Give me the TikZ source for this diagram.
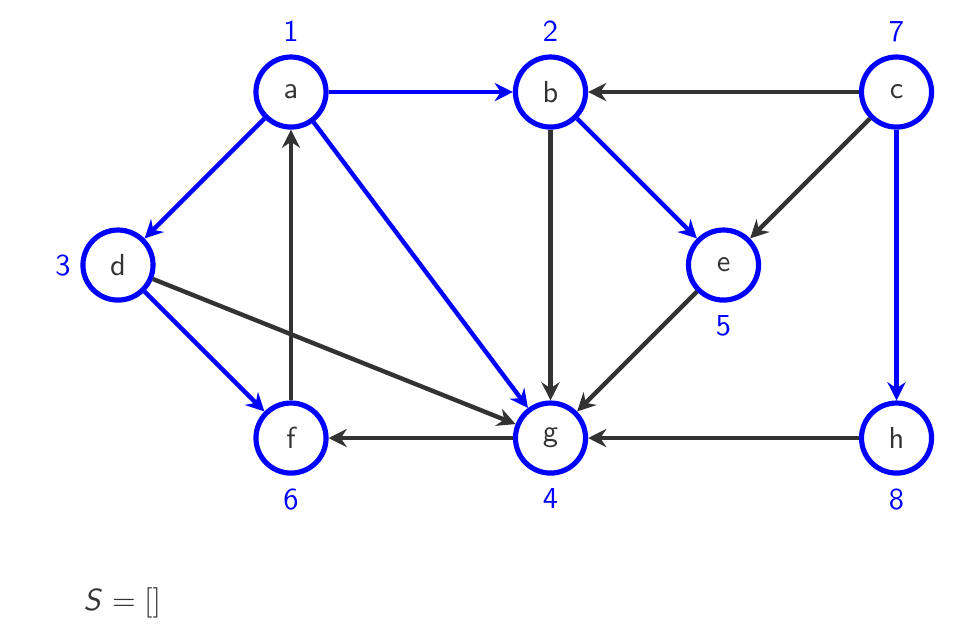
\documentclass[tikz,border=0pt]{standalone}
\usepackage{tikz}
\usetikzlibrary{arrows.meta,positioning}
\definecolor{edgegray}{RGB}{51,51,51}
\renewcommand{\familydefault}{\sfdefault}

\begin{document}
\begin{tikzpicture}[every node/.style={font=\sffamily}, 
    vertex/.style={circle, draw=blue, line width=1.7pt, minimum size=0.81cm, inner sep=0pt, text=edgegray},
    num/.style={text=blue, inner sep=2pt},
    visit/.style={draw=blue, line width=1.45pt, -{Stealth[length=6pt, width=6pt, inset=2pt]}},
    other/.style={draw=edgegray, line width=1.45pt, -{Stealth[length=6pt, width=6pt, inset=2pt]}}]
    \useasboundingbox (-1.364, -4.254) rectangle (9.942, 3.064);

    \node[vertex] (a) at (2, 2) {a};
    \node[vertex] (b) at (5, 2) {b};
    \node[vertex] (c) at (9, 2) {c};
    \node[vertex] (d) at (0, 0) {d};
    \node[vertex] (e) at (7, 0) {e};
    \node[vertex] (f) at (2, -2) {f};
    \node[vertex] (g) at (5, -2) {g};
    \node[vertex] (h) at (9, -2) {h};

    \node[num, above=2pt of a] (na) {1};
    \node[num, above=2pt of b] (nb) {2};
    \node[num, above=2pt of c] (nc) {7};
    \node[num, left=1pt of d] (nd) {3};
    \node[num, below=2pt of e] (ne) {5};
    \node[num, below=2pt of f] (nf) {6};
    \node[num, below=2pt of g] (ng) {4};
    \node[num, below=2pt of h] (nh) {8};

    \draw[visit] (a) -- (b);
    \draw[visit] (a) -- (d);
    \draw[visit] (a) -- (g);
    \draw[visit] (b) -- (e);
    \draw[visit] (d) -- (f);
    \draw[visit] (c) -- (h);

    \draw[other] (c) -- (b);
    \draw[other] (c) -- (e);
    \draw[other] (b) -- (g);
    \draw[other] (e) -- (g);
    \draw[other] (d) -- (g);
    \draw[other] (h) -- (g);
    \draw[other] (g) -- (f);
    \draw[other] (f) -- (a);

    \node[text=edgegray] (stack) at (0.05, -3.91) {\textit{S} $=[]$};
  \end{tikzpicture}
\end{document}
